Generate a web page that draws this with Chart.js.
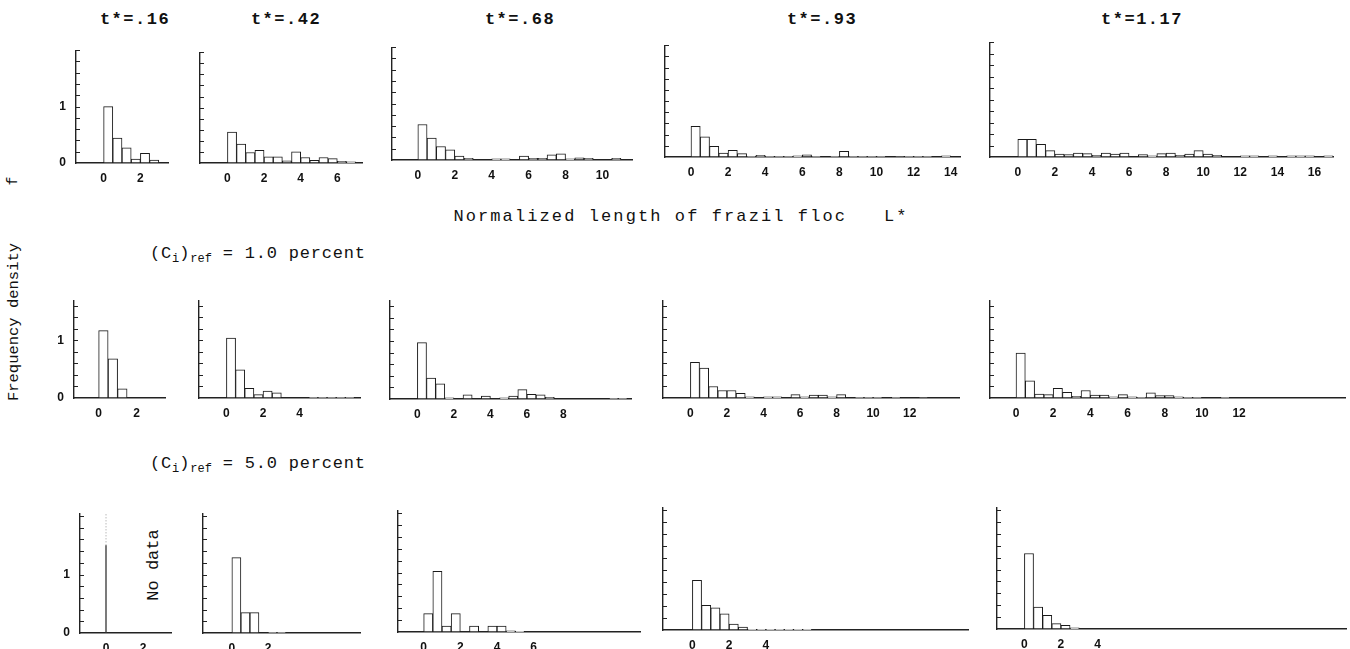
<!DOCTYPE html>
<html lang="en">
<head>
  <meta charset="UTF-8" />
  <title>Frazil floc length histograms</title>
  <script src="https://cdn.jsdelivr.net/npm/chart.js"></script>
  <style>
    body {
      margin: 0;
      width: 1350px;
      height: 649px;
      overflow: hidden;
      position: relative;
      background: #ffffff;
      color: #111;
      font-family: 'Liberation Mono', monospace;
    }
    canvas { position: absolute; }
    .lbl {
      position: absolute;
      white-space: pre;
      transform: translate(-50%, -50%);
    }
    .title { font-size: 17px; font-weight: bold; letter-spacing: 1.5px; }
    .xtitle { font-size: 17px; letter-spacing: 2.1px; }
    .rot { transform: translate(-50%, -50%) rotate(-90deg); }
    .conc {
      position: absolute;
      white-space: pre;
      font-size: 17px;
      letter-spacing: 0.8px;
      transform: translateY(-50%);
    }
    .conc sub { font-size: 12px; letter-spacing: 0; }
  </style>
</head>
<body>

<div class="lbl title" style="left:135px; top:19px">t*=.16</div>
<div class="lbl title" style="left:286px; top:19px">t*=.42</div>
<div class="lbl title" style="left:520px; top:19px">t*=.68</div>
<div class="lbl title" style="left:822px; top:19px">t*=.93</div>
<div class="lbl title" style="left:1142px; top:19px">t*=1.17</div>

<div class="lbl xtitle" style="left:681px; top:216px">Normalized length of frazil floc   L*</div>
<div class="lbl rot" style="left:13px; top:181px; font-size:15px">f</div>
<div class="lbl rot" style="left:14px; top:322px; font-size:15.5px">Frequency density</div>
<div class="conc" style="left:150px; top:255px">(C<sub>i</sub>)<sub>ref</sub> = 1.0 percent</div>
<div class="conc" style="left:150px; top:465px">(C<sub>i</sub>)<sub>ref</sub> = 5.0 percent</div>
<div class="lbl rot" style="left:153px; top:565px; font-size:17px">No data</div>

<script>
  // bin width of every histogram (normalized length L*)
  const binWidth = 0.5;

  // top row
  const r1_t016 = [1.00, 0.44, 0.27, 0.07, 0.17, 0.05];
  const r1_t042 = [0.56, 0.34, 0.19, 0.23, 0.11, 0.11, 0.04, 0.20, 0.10, 0.05, 0.10, 0.08, 0.03, 0.02];
  const r1_t068 = [0.63, 0.39, 0.24, 0.18, 0.07, 0.03, 0, 0, 0.02, 0.02, 0, 0.07, 0.03, 0.03, 0.09, 0.11,
                   0.02, 0.04, 0.03, 0, 0, 0.03];
  const r1_t093 = [0.55, 0.36, 0.19, 0.07, 0.12, 0.06, 0.01, 0.03, 0.01, 0.01, 0.01, 0.02, 0.04, 0.01, 0,
                   0.01, 0.10, 0.01, 0.01, 0.01, 0.01, 0, 0.005, 0.01, 0.01, 0.01, 0, 0.02];
  const r1_t117 = [0.31, 0.31, 0.22, 0.11, 0.05, 0.04, 0.07, 0.06, 0.03, 0.07, 0.05, 0.07, 0, 0.04, 0.02,
                   0.06, 0.07, 0.03, 0.05, 0.11, 0.05, 0.03, 0, 0, 0.02, 0.02, 0, 0.02, 0, 0.02, 0.02,
                   0.02, 0, 0.02];

  // (Ci)ref = 1.0 percent
  const r2_t016 = [1.17, 0.68, 0.16];
  const r2_t042 = [1.04, 0.49, 0.17, 0.06, 0.12, 0.09, 0, 0, 0, 0.01, 0.01, 0.01, 0.01, 0.01];
  const r2_t068 = [0.97, 0.36, 0.26, 0.02, 0, 0.07, 0, 0.05, 0, 0.02, 0.05, 0.16, 0.08, 0.07, 0.03,
                   0, 0, 0, 0, 0, 0, 0.01, 0.01];
  const r2_t093 = [0.62, 0.52, 0.20, 0.13, 0.13, 0.08, 0.02, 0, 0.02, 0.02, 0, 0.06, 0.02, 0.05, 0.05,
                   0.02, 0.06, 0, 0.01, 0.01, 0.01, 0, 0.01, 0, 0, 0.005];
  const r2_t117 = [0.78, 0.30, 0.07, 0.06, 0.17, 0.10, 0.03, 0.13, 0.05, 0.05, 0.02, 0.06, 0.02, 0.01,
                   0.09, 0.04, 0.04, 0.02, 0.01, 0.01, 0, 0, 0.01];

  // (Ci)ref = 5.0 percent
  const r3_t016_spikeAt = 0;
  const r3_t016_spikeSolid = 1.5;
  const r3_t016_spikeTop = 2.05;
  const r3_t042 = [1.29, 0.35, 0.35, 0, 0.01, 0.01];
  const r3_t068 = [0.31, 1.02, 0.10, 0.31, 0, 0.10, 0, 0.10, 0.10, 0.02, 0.01];
  const r3_t093 = [0.83, 0.41, 0.37, 0.27, 0.10, 0.05, 0.01, 0.01, 0.01, 0.01, 0.01, 0.01, 0.01];
  const r3_t117 = [1.27, 0.37, 0.23, 0.09, 0.06, 0.02];

  // x tick labels per panel
  const ticksR1 = [[0, 2], [0, 2, 4, 6], [0, 2, 4, 6, 8, 10], [0, 2, 4, 6, 8, 10, 12, 14], [0, 2, 4, 6, 8, 10, 12, 14, 16]];
  const ticksR2 = [[0, 2], [0, 2, 4], [0, 2, 4, 6, 8], [0, 2, 4, 6, 8, 10, 12], [0, 2, 4, 6, 8, 10, 12]];
  const ticksR3 = [[0, 2], [0, 2], [0, 2, 4, 6], [0, 2, 4], [0, 2, 4]];

  // panel layout: plot box [left, right, top, bottom] in page pixels, axis ranges
  const panels = [
    { values: r1_t016, xt: ticksR1[0], box: [76, 168, 50, 163],  xMin: -1.5, xMax: 3.5,  yMax: 2.0, yLabels: true },
    { values: r1_t042, xt: ticksR1[1], box: [200, 362, 52, 163], xMin: -1.5, xMax: 7.35, yMax: 2.0 },
    { values: r1_t068, xt: ticksR1[2], box: [392, 632, 47, 160], xMin: -1.4, xMax: 11.6, yMax: 2.0 },
    { values: r1_t093, xt: ticksR1[3], box: [665, 960, 45, 157], xMin: -1.4, xMax: 14.5, yMax: 2.0 },
    { values: r1_t117, xt: ticksR1[4], box: [990, 1333, 42, 157], xMin: -1.5, xMax: 17.0, yMax: 2.0 },

    { values: r2_t016, xt: ticksR2[0], box: [74, 165, 300, 398],  xMin: -1.3, xMax: 3.5,  yMax: 1.7, yLabels: true },
    { values: r2_t042, xt: ticksR2[1], box: [199, 360, 300, 398], xMin: -1.5, xMax: 7.3,  yMax: 1.7 },
    { values: r2_t068, xt: ticksR2[2], box: [390, 631, 300, 399], xMin: -1.5, xMax: 11.7, yMax: 1.7 },
    { values: r2_t093, xt: ticksR2[3], box: [663, 959, 300, 398], xMin: -1.5, xMax: 14.7, yMax: 1.7 },
    { values: r2_t117, xt: ticksR2[4], box: [990, 1345, 300, 398], xMin: -1.4, xMax: 17.7, yMax: 1.7 },

    { spike: true,     xt: ticksR3[0], box: [80, 171, 513, 633],  xMin: -1.4, xMax: 3.5,  yMax: 2.05, yLabels: true },
    { values: r3_t042, xt: ticksR3[1], box: [203, 360, 513, 633], xMin: -1.6, xMax: 7.1,  yMax: 2.05 },
    { values: r3_t068, xt: ticksR3[2], box: [398, 640, 510, 632], xMin: -1.4, xMax: 11.8, yMax: 2.05 },
    { values: r3_t093, xt: ticksR3[3], box: [663, 968, 507, 630], xMin: -1.6, xMax: 15.0, yMax: 2.05 },
    { values: r3_t117, xt: ticksR3[4], box: [997, 1346, 507, 629], xMin: -1.5, xMax: 17.6, yMax: 2.05 }
  ];

  const PAD_L = 30, PAD_R = 6, PAD_T = 4, PAD_B = 22;

  // short tick marks pointing into the plot on the y axis
  const inwardTicks = {
    id: 'inwardTicks',
    afterDraw(chart) {
      const y = chart.scales.y, left = chart.chartArea.left, ctx = chart.ctx;
      ctx.save();
      ctx.strokeStyle = '#222';
      ctx.lineWidth = 1;
      y.ticks.forEach(t => {
        if (t.value <= 0) return;
        const py = Math.round(y.getPixelForValue(t.value)) + 0.5;
        ctx.beginPath();
        ctx.moveTo(left, py);
        ctx.lineTo(left + 4, py);
        ctx.stroke();
      });
      ctx.restore();
    }
  };

  function buildDatasets(p) {
    if (p.spike) {
      return [
        {
          type: 'line',
          data: [{ x: r3_t016_spikeAt, y: 0 }, { x: r3_t016_spikeAt, y: r3_t016_spikeSolid }],
          borderColor: '#333', borderWidth: 1.3, pointRadius: 0
        },
        {
          type: 'line',
          data: [{ x: r3_t016_spikeAt, y: r3_t016_spikeSolid }, { x: r3_t016_spikeAt, y: r3_t016_spikeTop }],
          borderColor: '#999', borderWidth: 1, borderDash: [1, 2], pointRadius: 0
        }
      ];
    }
    return [{
      data: p.values.map((v, i) => ({ x: binWidth * (i + 0.5), y: v })),
      backgroundColor: '#ffffff',
      borderColor: '#1a1a1a',
      borderWidth: 1,
      borderSkipped: false,
      barPercentage: 1,
      categoryPercentage: 1
    }];
  }

  function build(p, e) {
    const [l, r, t, b] = p.box;
    const cv = document.createElement('canvas');
    cv.width = (r - l) + PAD_L + PAD_R + e.l + e.r;
    cv.height = (b - t) + PAD_T + PAD_B + e.t + e.b;
    cv.style.left = (l - PAD_L - e.l) + 'px';
    cv.style.top = (t - PAD_T - e.t) + 'px';
    document.body.appendChild(cv);

    const chart = new Chart(cv, {
      type: 'bar',
      data: { datasets: buildDatasets(p) },
      options: {
        responsive: false,
        animation: false,
        layout: { padding: { top: PAD_T, right: PAD_R, left: 0, bottom: 0 } },
        plugins: { legend: { display: false }, tooltip: { enabled: false } },
        scales: {
          x: {
            type: 'linear',
            min: p.xMin,
            max: p.xMax,
            offset: false,
            grid: { display: false, drawTicks: false },
            border: { display: true, color: '#222', width: 1.4 },
            afterBuildTicks: s => { s.ticks = p.xt.map(v => ({ value: v })); },
            afterFit: s => { s.height = PAD_B; },
            ticks: {
              autoSkip: false,
              maxRotation: 0,
              padding: 8,
              color: '#111',
              font: { family: 'Liberation Sans', weight: 'bold', size: 12 }
            }
          },
          y: {
            min: 0,
            max: p.yMax,
            grid: { display: false, drawTicks: false },
            border: { display: true, color: '#222', width: 1.4 },
            afterFit: s => { s.width = PAD_L; },
            ticks: {
              stepSize: 0.2,
              autoSkip: false,
              includeBounds: false,
              padding: 10,
              color: '#111',
              font: { family: 'Liberation Sans', weight: 'bold', size: 12 },
              callback: v => {
                if (!p.yLabels) return '';
                if (Math.abs(v) < 1e-6) return '0';
                if (Math.abs(v - 1) < 1e-6) return '1';
                return '';
              }
            }
          }
        }
      },
      plugins: [inwardTicks]
    });
    return { chart, cv };
  }

  function makePanel(p) {
    let { chart, cv } = build(p, { l: 0, r: 0, t: 0, b: 0 });
    const ca = chart.chartArea;
    // correct for the automatic label padding so the plot box lands where it should
    const e = {
      l: Math.round(ca.left - PAD_L),
      t: Math.round(ca.top - PAD_T),
      r: Math.round((cv.width - PAD_R) - ca.right),
      b: Math.round((cv.height - PAD_B) - ca.bottom)
    };
    if (e.l || e.t || e.r || e.b) {
      chart.destroy();
      cv.remove();
      build(p, e);
    }
  }

  window.onload = () => {
    panels.forEach(makePanel);
  };
</script>
</body>
</html>
